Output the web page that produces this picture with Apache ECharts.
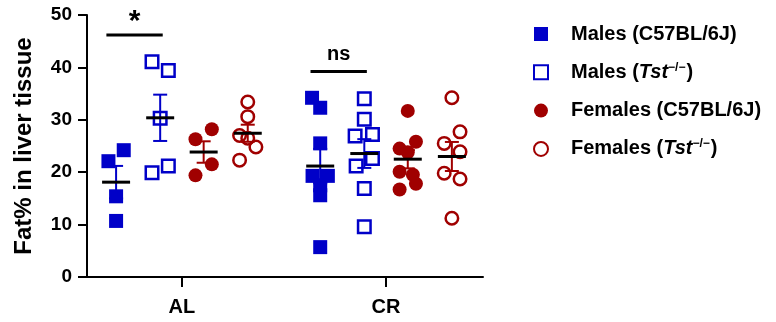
<!DOCTYPE html>
<html>
<head>
<meta charset="utf-8">
<script src="https://cdn.jsdelivr.net/npm/echarts@6/dist/echarts.min.js"></script>
<style>
  html, body { margin: 0; padding: 0; background: #ffffff; }
  #chart { width: 776px; height: 322px; }
</style>
</head>
<body>
<div id="chart"></div>
<script>
// ---- data ----
const groups = ['AL', 'CR'];
const seriesNames = ['Males (C57BL/6J)', 'Males (Tst-/-)', 'Females (C57BL/6J)', 'Females (Tst-/-)'];
const yTicks = [0, 10, 20, 30, 40, 50];
const yAxisTitle = 'Fat% in liver tissue';

// liver fat % per animal
const malesWT_AL   = [24.2, 22.1, 15.4, 10.7];
const malesKO_AL   = [41.1, 39.4, 30.3, 19.9, 21.2];
const femalesWT_AL = [28.2, 26.3, 21.5, 19.4];
const femalesKO_AL = [33.4, 30.6, 27.0, 26.5, 24.8, 22.3];

const malesWT_CR   = [34.2, 32.3, 25.5, 19.3, 19.3, 17.5, 15.6, 5.7];
const malesKO_CR   = [34.0, 30.1, 26.9, 27.2, 22.6, 21.2, 16.9, 9.6];
const femalesWT_CR = [31.7, 25.8, 24.5, 23.8, 20.1, 19.5, 17.8, 16.7];
const femalesKO_CR = [34.2, 27.7, 25.5, 23.9, 19.8, 18.7, 11.2];

// pairwise comparison of the two male genotypes in each diet group
const sigLabels  = ['*', 'ns'];
const sigHeights = [46.2, 39.2];

// ---- layout ----
const groupCenters = [1, 3];
const subgroupOffsets = [-0.645, -0.213, 0.213, 0.645];
// horizontal scatter of overlapping points (axis units)
const jitter = [
  [[0.075, -0.075, 0, 0], [-0.08, 0.08, 0, -0.08, 0.08], [0.08, -0.08, 0.08, -0.08], [0, 0, -0.08, 0, 0.08, -0.08]],
  [[-0.08, 0, 0, -0.075, 0.075, 0, 0, 0], [0, 0, -0.09, 0.08, 0.08, -0.08, 0, 0],
   [0, 0.08, -0.08, 0, -0.08, 0.05, 0.08, -0.08], [0, 0.08, -0.075, 0.08, -0.075, 0.08, 0]]
];
const values = [
  [malesWT_AL, malesKO_AL, femalesWT_AL, femalesKO_AL],
  [malesWT_CR, malesKO_CR, femalesWT_CR, femalesKO_CR]
];

const BLUE = '#0000c8';
const RED = '#a00000';
const FONT = "'Liberation Sans', Arial, sans-serif";
const styles = [
  { color: BLUE, symbol: 'rect', filled: true },
  { color: BLUE, symbol: 'rect', filled: false },
  { color: RED, symbol: 'circle', filled: true },
  { color: RED, symbol: 'circle', filled: false }
];

function mean(a) { return a.reduce((s, v) => s + v, 0) / a.length; }
function sem(a) {
  const m = mean(a);
  const v = a.reduce((s, x) => s + (x - m) * (x - m), 0) / (a.length - 1);
  return Math.sqrt(v / a.length);
}

const series = [];

// individual animals
seriesNames.forEach((name, s) => {
  const st = styles[s];
  const data = [];
  groups.forEach((g, gi) => {
    values[gi][s].forEach((v, i) => {
      data.push([groupCenters[gi] + subgroupOffsets[s] + jitter[gi][s][i], v]);
    });
  });
  series.push({
    type: 'scatter',
    name: name,
    symbol: st.symbol,
    symbolSize: st.filled ? 14 : 12.5,
    itemStyle: st.filled
      ? { color: st.color, opacity: 1 }
      : { color: 'rgba(255,255,255,0)', borderColor: st.color, borderWidth: 2.5, opacity: 1 },
    data: data,
    z: 2,
    emphasis: { disabled: true }
  });
});

// mean (black) and SEM whiskers (series colour)
seriesNames.forEach((name, s) => {
  const st = styles[s];
  const data = groups.map((g, gi) => {
    const arr = values[gi][s];
    const m = mean(arr), e = sem(arr);
    return [groupCenters[gi] + subgroupOffsets[s], m, m - e, m + e];
  });
  series.push({
    type: 'custom',
    name: name + ' mean',
    z: 5,
    data: data,
    renderItem: function (params, api) {
      const cx = api.value(0);
      const pm = api.coord([cx, api.value(1)]);
      const plo = api.coord([cx, api.value(2)]);
      const phi = api.coord([cx, api.value(3)]);
      const cap = 7, half = 14;
      const ws = { stroke: st.color, lineWidth: 2 };
      return {
        type: 'group',
        children: [
          { type: 'line', shape: { x1: phi[0], y1: phi[1], x2: plo[0], y2: plo[1] }, style: ws },
          { type: 'line', shape: { x1: phi[0] - cap, y1: phi[1], x2: phi[0] + cap, y2: phi[1] }, style: ws },
          { type: 'line', shape: { x1: plo[0] - cap, y1: plo[1], x2: plo[0] + cap, y2: plo[1] }, style: ws },
          { type: 'line', shape: { x1: pm[0] - half, y1: pm[1], x2: pm[0] + half, y2: pm[1] },
            style: { stroke: '#000', lineWidth: 3 } }
        ]
      };
    }
  });
});

// significance bars between male genotypes
series.push({
  type: 'custom',
  name: 'comparisons',
  z: 6,
  data: groups.map((g, gi) => [
    groupCenters[gi] + subgroupOffsets[0] - 0.095,
    groupCenters[gi] + subgroupOffsets[1] + 0.025,
    sigHeights[gi], gi
  ]),
  renderItem: function (params, api) {
    const y = api.value(2);
    const p1 = api.coord([api.value(0), y]);
    const p2 = api.coord([api.value(1), y]);
    const label = sigLabels[api.value(3)];
    const isStar = label === '*';
    return {
      type: 'group',
      children: [
        { type: 'line', shape: { x1: p1[0], y1: p1[1], x2: p2[0], y2: p2[1] },
          style: { stroke: '#000', lineWidth: 3 } },
        { type: 'text',
          style: {
            text: label, x: (p1[0] + p2[0]) / 2, y: isStar ? p1[1] - 28 : p1[1] - 7,
            align: 'center', verticalAlign: isStar ? 'top' : 'bottom',
            font: 'bold ' + (isStar ? 30 : 20) + 'px ' + FONT, fill: '#000'
          } }
      ]
    };
  }
});

const chart = echarts.init(document.getElementById('chart'), null, { renderer: 'canvas' });
chart.setOption({
  backgroundColor: '#ffffff',
  animation: false,
  grid: { left: 87, right: 293, top: 15, bottom: 45, containLabel: false, outerBoundsMode: 'none' },
  xAxis: {
    type: 'value',
    min: 0.07,
    max: 3.95,
    splitLine: { show: false },
    axisLine: { show: true, lineStyle: { color: '#000', width: 2 } },
    axisTick: { show: true, customValues: groupCenters, length: 10, lineStyle: { color: '#000', width: 2 } },
    axisLabel: {
      show: true, customValues: groupCenters, margin: 20,
      formatter: function (v) { return groups[groupCenters.indexOf(v)]; },
      color: '#000', fontFamily: FONT, fontWeight: 'bold', fontSize: 20
    }
  },
  yAxis: {
    type: 'value',
    min: 0,
    max: 50,
    interval: 10,
    name: yAxisTitle,
    nameLocation: 'middle',
    nameGap: 51,
    nameTextStyle: { color: '#000', fontFamily: FONT, fontWeight: 'bold', fontSize: 24 },
    splitLine: { show: false },
    axisLine: { show: true, lineStyle: { color: '#000', width: 2 } },
    axisTick: { show: true, length: 9, lineStyle: { color: '#000', width: 2 } },
    axisLabel: {
      margin: 15, color: '#000', fontFamily: FONT, fontWeight: 'bold', fontSize: 19,
      formatter: function (v) { return yTicks.indexOf(v) >= 0 ? String(v) : ''; }
    }
  },
  legend: {
    data: seriesNames,
    orient: 'vertical',
    left: 528,
    top: 17,
    itemWidth: 14,
    itemHeight: 14,
    itemGap: 14.3,
    selectedMode: false,
    formatter: function (name) {
      const m = name.match(/^(\S+) \(Tst-\/-\)$/);
      if (m) return m[1] + ' ({i|Tst}{sup|\u2212/\u2212})';
      return name;
    },
    textStyle: {
      color: '#000', fontFamily: FONT, fontWeight: 'bold', fontSize: 20, lineHeight: 24,
      padding: [0, 0, 0, 18],
      rich: {
        i: { color: '#000', fontFamily: FONT, fontWeight: 'bold', fontStyle: 'italic', fontSize: 20, lineHeight: 24 },
        sup: { color: '#000', fontFamily: FONT, fontWeight: 'bold', fontSize: 12, lineHeight: 24, padding: [0, 1, 10, 0] }
      }
    }
  },
  series: series
});
</script>
</body>
</html>
